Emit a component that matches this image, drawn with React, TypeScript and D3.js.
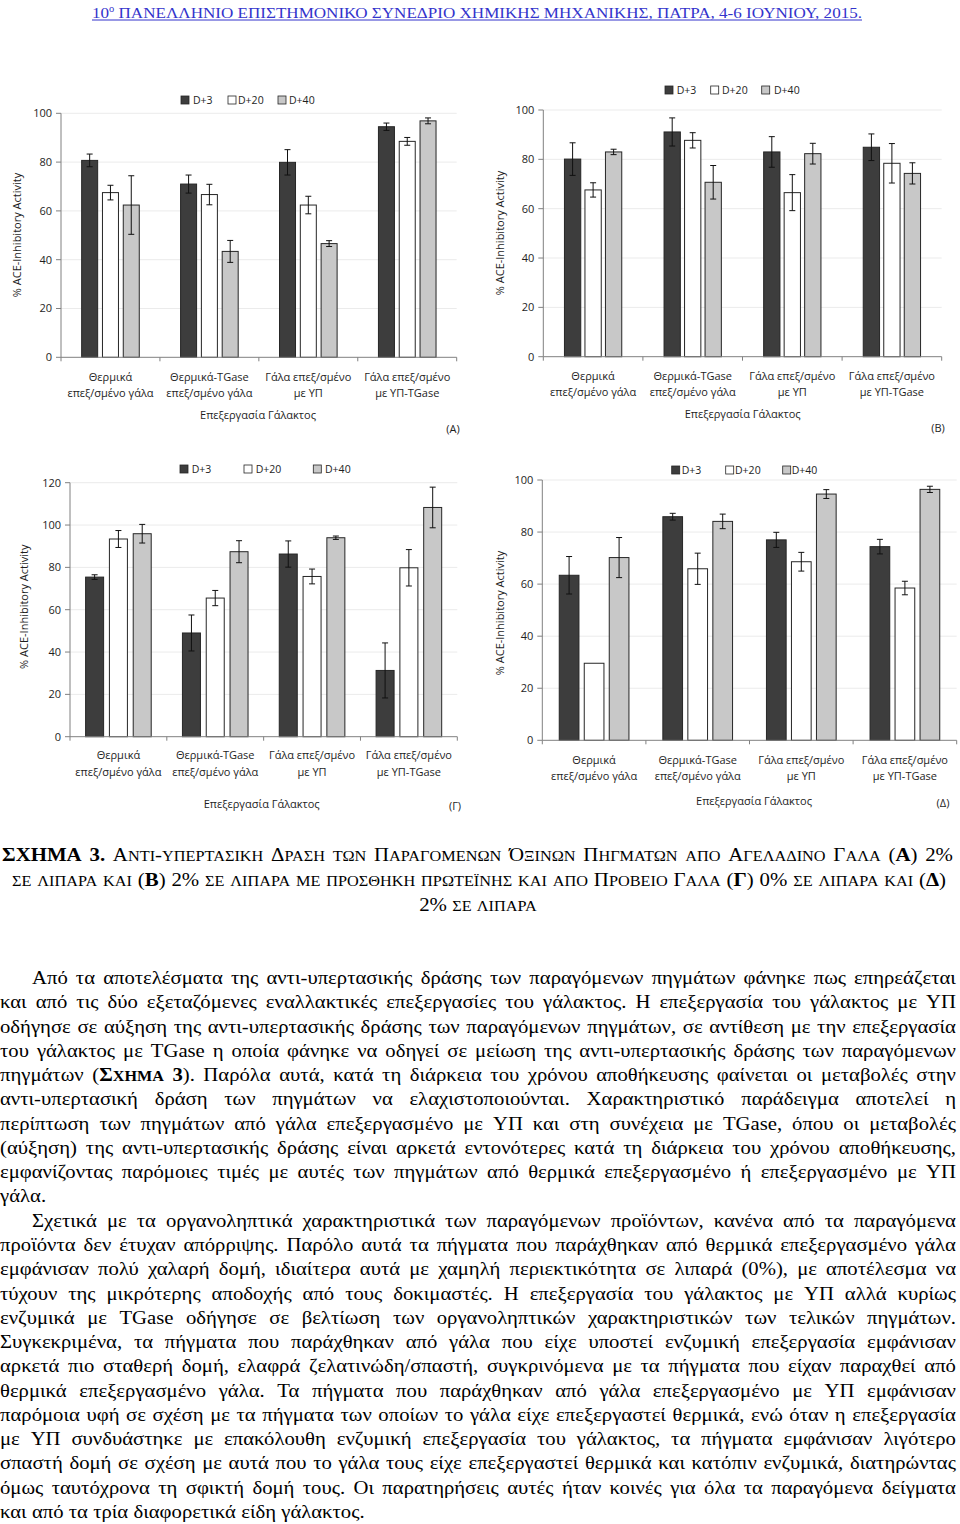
import React, { useEffect, useRef } from 'react';
import * as d3 from 'd3';

// ---------- DATA ----------
const categories: string[][] = [
  ['Θερμικά', 'επεξ/σμένο γάλα'],
  ['Θερμικά-TGase', 'επεξ/σμένο γάλα'],
  ['Γάλα επεξ/σμένο', 'με ΥΠ'],
  ['Γάλα επεξ/σμένο', 'με ΥΠ-TGase'],
];
const seriesNames = ['D+3', 'D+20', 'D+40'];
const xAxisTitle = 'Επεξεργασία Γάλακτος';
const yAxisTitle = '% ACE-Inhibitory Activity';

// (A)
const valuesA = [
  [80.7, 71.0, 79.9, 94.5],
  [67.5, 66.7, 62.4, 88.5],
  [62.4, 43.4, 46.6, 96.9],
];
const errorsA = [
  [2.6, 3.7, 5.2, 1.5],
  [3.0, 4.2, 3.6, 1.6],
  [12.0, 4.5, 1.2, 1.2],
];
// (B)
const valuesB = [
  [80.1, 91.1, 83.0, 84.9],
  [67.6, 87.7, 66.5, 78.4],
  [83.0, 70.7, 82.3, 74.3],
];
const errorsB = [
  [6.6, 5.7, 6.2, 5.4],
  [2.9, 3.1, 7.3, 8.0],
  [1.1, 6.8, 4.2, 4.3],
];
// (Γ)
const valuesG = [
  [75.4, 49.0, 86.3, 31.3],
  [93.4, 65.5, 75.7, 79.8],
  [95.9, 87.4, 94.0, 108.3],
];
const errorsG = [
  [1.1, 8.5, 6.2, 13.0],
  [4.0, 3.6, 3.5, 8.6],
  [4.4, 5.2, 0.8, 9.6],
];
// (Δ)
const valuesD = [
  [63.4, 85.9, 77.0, 74.4],
  [29.6, 65.9, 68.6, 58.5],
  [70.2, 84.1, 94.6, 96.4],
];
const errorsD = [
  [7.2, 1.3, 2.9, 2.8],
  [0, 6.0, 3.6, 2.6],
  [7.7, 2.8, 1.7, 1.2],
];

const headerText = '10ο ΠΑΝΕΛΛΗΝΙΟ ΕΠΙΣΤΗΜΟΝΙΚΟ ΣΥΝΕΔΡΙΟ ΧΗΜΙΚΗΣ ΜΗΧΑΝΙΚΗΣ, ΠΑΤΡΑ, 4-6 ΙΟΥΝΙΟΥ, 2015.';

// caption: * toggles bold, ~ toggles small caps
const captionLines = [
  '*ΣΧΗΜΑ 3.* ~Αντι-υπερτασικη Δραση των Παραγομενων Όξινων Πηγματων απο Αγελαδινο Γαλα~ (*Α*) 2%',
  '~σε λιπαρα και~ (*Β*) 2% ~σε λιπαρα με προσθηκη πρωτεϊνης και απο Προβειο Γαλα~ (*Γ*) 0% ~σε λιπαρα και~ (*Δ*)',
  '2% ~σε λιπαρα~',
];

const bodyLines = [
  'Από τα αποτελέσματα της αντι-υπερτασικής δράσης των παραγόμενων πηγμάτων φάνηκε πως επηρεάζεται',
  'και από τις δύο εξεταζόμενες εναλλακτικές επεξεργασίες του γάλακτος. Η επεξεργασία του γάλακτος με ΥΠ',
  'οδήγησε σε αύξηση της αντι-υπερτασικής δράσης των παραγόμενων πηγμάτων, σε αντίθεση με την επεξεργασία',
  'του γάλακτος με TGase η οποία φάνηκε να οδηγεί σε μείωση της αντι-υπερτασικής δράσης των παραγόμενων',
  'πηγμάτων (*~Σχημα~ 3*). Παρόλα αυτά, κατά τη διάρκεια του χρόνου αποθήκευσης φαίνεται οι μεταβολές στην',
  'αντι-υπερτασική δράση των πηγμάτων να ελαχιστοποιούνται. Χαρακτηριστικό παράδειγμα αποτελεί η',
  'περίπτωση των πηγμάτων από γάλα επεξεργασμένο με ΥΠ και στη συνέχεια με TGase, όπου οι μεταβολές',
  '(αύξηση) της αντι-υπερτασικής δράσης είναι αρκετά εντονότερες κατά τη διάρκεια του χρόνου αποθήκευσης,',
  'εμφανίζοντας παρόμοιες τιμές με αυτές των πηγμάτων από θερμικά επεξεργασμένο ή επεξεργασμένο με ΥΠ',
  'γάλα.',
  'Σχετικά με τα οργανοληπτικά χαρακτηριστικά των παραγόμενων προϊόντων, κανένα από τα παραγόμενα',
  'προϊόντα δεν έτυχαν απόρριψης. Παρόλο αυτά τα πήγματα που παράχθηκαν από θερμικά επεξεργασμένο γάλα',
  'εμφάνισαν πολύ χαλαρή δομή, ιδιαίτερα αυτά με χαμηλή περιεκτικότητα σε λιπαρά (0%), με αποτέλεσμα να',
  'τύχουν της μικρότερης αποδοχής από τους δοκιμαστές. Η επεξεργασία του γάλακτος με ΥΠ αλλά κυρίως',
  'ενζυμικά με TGase οδήγησε σε βελτίωση των οργανοληπτικών χαρακτηριστικών των τελικών πηγμάτων.',
  'Συγκεκριμένα, τα πήγματα που παράχθηκαν από γάλα που είχε υποστεί ενζυμική επεξεργασία εμφάνισαν',
  'αρκετά πιο σταθερή δομή, ελαφρά ζελατινώδη/σπαστή, συγκρινόμενα με τα πήγματα που είχαν παραχθεί από',
  'θερμικά επεξεργασμένο γάλα. Τα πήγματα που παράχθηκαν από γάλα επεξεργασμένο με ΥΠ εμφάνισαν',
  'παρόμοια υφή σε σχέση με τα πήγματα των οποίων το γάλα είχε επεξεργαστεί θερμικά, ενώ όταν η επεξεργασία',
  'με ΥΠ συνδυάστηκε με επακόλουθη ενζυμική επεξεργασία του γάλακτος, τα πήγματα εμφάνισαν λιγότερο',
  'σπαστή δομή σε σχέση με αυτά που το γάλα τους είχε επεξεργαστεί θερμικά και κατόπιν ενζυμικά, διατηρώντας',
  'όμως ταυτόχρονα τη σφικτή δομή τους. Οι παρατηρήσεις αυτές ήταν κοινές για όλα τα παραγόμενα δείγματα',
  'και από τα τρία διαφορετικά είδη γάλακτος.',
];
const indentedLines = [0, 10];
const leftAlignedLines = [9, 22];

// ---------- LAYOUT ----------
interface Panel {
  values: number[][]; errors: number[][]; max: number; tag: string;
  left: number; right: number; top: number; bottom: number;
  barW: number; pitch: number;
  legendY: number; legendSq: number[]; legendTx: number[];
  yTitle: [number, number]; catY: [number, number]; xTitle: [number, number]; tagPos: [number, number];
}

const panels: Panel[] = [
  { values: valuesA, errors: errorsA, max: 100, tag: '(A)',
    left: 61, right: 456.7, top: 113.3, bottom: 357.3, barW: 16, pitch: 20.8,
    legendY: 100, legendSq: [181, 228, 278], legendTx: [193, 238, 289],
    yTitle: [17, 235], catY: [377, 393], xTitle: [258, 415.6], tagPos: [453, 429] },
  { values: valuesB, errors: errorsB, max: 100, tag: '(B)',
    left: 543.3, right: 941.7, top: 110, bottom: 356.7, barW: 16.3, pitch: 20.5,
    legendY: 90, legendSq: [665, 710.7, 761.7], legendTx: [676.7, 722, 774],
    yTitle: [500, 233], catY: [375.7, 392.3], xTitle: [742.7, 414], tagPos: [938, 428] },
  { values: valuesG, errors: errorsG, max: 120, tag: '(Γ)',
    left: 70, right: 457.3, top: 482.7, bottom: 736.7, barW: 18, pitch: 23.8,
    legendY: 469, legendSq: [180, 244, 313.3], legendTx: [191.7, 255.7, 325],
    yTitle: [24, 606.7], catY: [755, 772], xTitle: [261.7, 804.3], tagPos: [455, 805.7] },
  { values: valuesD, errors: errorsD, max: 100, tag: '(Δ)',
    left: 542.3, right: 956.7, top: 480, bottom: 740.3, barW: 19.7, pitch: 25,
    legendY: 470, legendSq: [671.7, 725.7, 782.7], legendTx: [681.7, 735, 791.7],
    yTitle: [500, 613], catY: [760, 776], xTitle: [754, 800.7], tagPos: [943, 803] },
];

const fills = ['#3d3d3d', '#ffffff', '#c8c8c8'];
const chartFont = '"Open Sans", "Noto Sans", sans-serif';
const serif = '"Liberation Serif", "Times New Roman", serif';
const textCol = '#1e1e1e';

function Chart({ p }: { p: Panel }) {
  const y = d3.scaleLinear().domain([0, p.max]).range([p.bottom, p.top]);
  const x = d3.scaleBand<number>().domain(categories.map((_, i) => i)).range([p.left, p.right]);
  const ticks = d3.range(0, p.max + 1, 20);
  const bw = x.bandwidth();
  return (
    <g>
      {ticks.filter(t => t > 0).map(t => (
        <line key={'g' + t} x1={p.left} x2={p.right} y1={y(t)} y2={y(t)} stroke="#ebebeb" strokeWidth={1} />
      ))}
      {p.values.map((ser, s) => ser.map((v, c) => {
        const cx = (x(c) as number) + bw / 2 + (s - 1) * p.pitch;
        return (
          <rect key={`b${s}-${c}`} x={cx - p.barW / 2} y={y(v)} width={p.barW} height={y(0) - y(v)}
            fill={fills[s]} stroke="#262626" strokeWidth={1} />
        );
      }))}
      {p.values.map((ser, s) => ser.map((v, c) => {
        const e = p.errors[s][c];
        if (!e) return null;
        const cx = (x(c) as number) + bw / 2 + (s - 1) * p.pitch;
        return (
          <g key={`e${s}-${c}`} stroke="#111" strokeWidth={1}>
            <line x1={cx} x2={cx} y1={y(v + e)} y2={y(v - e)} />
            <line x1={cx - 3} x2={cx + 3} y1={y(v + e)} y2={y(v + e)} />
            <line x1={cx - 3} x2={cx + 3} y1={y(v - e)} y2={y(v - e)} />
          </g>
        );
      }))}
      <line x1={p.left} x2={p.left} y1={p.top} y2={p.bottom} stroke="#808080" strokeWidth={1} />
      <line x1={p.left} x2={p.right} y1={p.bottom} y2={p.bottom} stroke="#808080" strokeWidth={1} />
      {ticks.map(t => (
        <g key={'t' + t}>
          <line x1={p.left - 5} x2={p.left} y1={y(t)} y2={y(t)} stroke="#808080" />
          <text x={p.left - 9} y={y(t)} dy="0.35em" textAnchor="end" fontSize={11} fontFamily={chartFont} fill={textCol}>{t}</text>
        </g>
      ))}
      {d3.range(categories.length + 1).map(i => {
        const xx = p.left + i * bw;
        return <line key={'xt' + i} x1={xx} x2={xx} y1={p.bottom} y2={p.bottom + 4} stroke="#808080" />;
      })}
      {categories.map((c, i) => (
        <g key={'c' + i}>
          {c.map((ln, j) => (
            <text key={j} x={(x(i) as number) + bw / 2} y={p.catY[j]} dy="0.35em" textAnchor="middle"
              fontSize={11} fontFamily={chartFont} fill={textCol}>{ln}</text>
          ))}
        </g>
      ))}
      <text x={p.xTitle[0]} y={p.xTitle[1]} dy="0.35em" textAnchor="middle" fontSize={11} fontFamily={chartFont} fill={textCol}>{xAxisTitle}</text>
      <text x={p.tagPos[0]} y={p.tagPos[1]} dy="0.35em" textAnchor="middle" fontSize={11} fontFamily={chartFont} fill={textCol}>{p.tag}</text>
      <text transform={`translate(${p.yTitle[0]},${p.yTitle[1]}) rotate(-90)`} dy="0.35em" textAnchor="middle"
        fontSize={11} fontFamily={chartFont} fill={textCol}>{yAxisTitle}</text>
      {seriesNames.map((nm, s) => (
        <g key={'l' + s}>
          <rect x={p.legendSq[s]} y={p.legendY - 4} width={8} height={8} fill={fills[s]} stroke="#262626" strokeWidth={0.8} />
          <text x={p.legendTx[s]} y={p.legendY} dy="0.35em" fontSize={10.5} fontFamily={chartFont} fill={textCol}>{nm}</text>
        </g>
      ))}
    </g>
  );
}

type Seg = { t: string; b: boolean; sc: boolean };
function parseLine(s: string): Seg[][] {
  let b = false, sc = false;
  const words: Seg[][] = [];
  let cur: Seg[] = [];
  for (const ch of s) {
    if (ch === '*') { b = !b; continue; }
    if (ch === '~') { sc = !sc; continue; }
    if (ch === ' ') { if (cur.length) words.push(cur); cur = []; continue; }
    const small = sc && ch !== ch.toUpperCase();
    const t = small ? ch.toUpperCase() : ch;
    const last = cur[cur.length - 1];
    if (last && last.b === b && last.sc === small) last.t += t;
    else cur.push({ t, b, sc: small });
  }
  if (cur.length) words.push(cur);
  return words;
}

interface LineSpec {
  text: string; x0: number; x1: number; y: number; size: number;
  align: 'justify' | 'left' | 'center'; hs: number; scRatio: number;
}

function layoutLines(g: SVGGElement, lines: LineSpec[]) {
  const sel = d3.select(g);
  sel.selectAll('*').remove();
  for (const ln of lines) {
    const words = parseLine(ln.text);
    const nodes = words.map(w => {
      const t = sel.append('text').attr('font-family', serif).attr('font-size', ln.size).attr('fill', '#000');
      w.forEach(seg => {
        const ts = t.append('tspan').text(seg.t);
        if (seg.b) ts.attr('font-weight', 'bold');
        if (seg.sc) ts.attr('font-size', ln.size * ln.scRatio);
      });
      return t;
    });
    const widths = nodes.map(n => (n.node() as SVGTextElement).getComputedTextLength());
    const W = d3.sum(widths);
    const n = words.length - 1;
    const space = ln.size * 0.25;
    let scale = ln.hs;
    let gap = space * scale;
    const avail = ln.x1 - ln.x0;
    if (ln.align === 'justify' && n > 0) {
      gap = (avail - W * scale) / n;
      const minGap = space * 0.6;
      if (gap < minGap) { gap = minGap; scale = (avail - n * minGap) / W; }
    }
    const total = W * scale + n * gap;
    let xx = ln.align === 'center' ? (ln.x0 + ln.x1) / 2 - total / 2 : ln.x0;
    nodes.forEach((nd, i) => {
      nd.attr('transform', `translate(${xx},${ln.y}) scale(${scale},1)`);
      xx += widths[i] * scale + gap;
    });
  }
}

export default function App() {
  const textRef = useRef<SVGGElement>(null);
  useEffect(() => {
    const specs: LineSpec[] = [];
    specs.push({ text: captionLines[0], x0: 2, x1: 953, y: 861, size: 19.5, align: 'justify', hs: 1.07, scRatio: 0.78 });
    specs.push({ text: captionLines[1], x0: 12, x1: 946, y: 886, size: 19.5, align: 'justify', hs: 1.07, scRatio: 0.78 });
    specs.push({ text: captionLines[2], x0: 2, x1: 954, y: 910.5, size: 19.5, align: 'center', hs: 1.07, scRatio: 0.78 });
    bodyLines.forEach((t, i) => {
      specs.push({
        text: t,
        x0: indentedLines.includes(i) ? 32 : 0,
        x1: 956,
        y: 984 + i * 24.27,
        size: 18.5,
        align: leftAlignedLines.includes(i) ? 'left' : 'justify',
        hs: 1.12,
        scRatio: 0.78,
      });
    });
    const run = () => { if (textRef.current) layoutLines(textRef.current, specs); };
    run();
    if ((document as any).fonts && (document as any).fonts.ready) (document as any).fonts.ready.then(run);
  }, []);

  return (
    <svg width={960} height={1524} style={{ position: 'absolute', left: 0, top: 0, background: '#fff' }}>
      <rect x={0} y={0} width={960} height={1524} fill="#fff" />
      <text x={92} y={18} fontFamily={serif} fontSize={15.5} fill="#3333cc" textLength={770} lengthAdjust="spacingAndGlyphs">
        10<tspan fontSize={9.5} dy={-6}>ο</tspan><tspan dy={6}>{headerText.slice(3)}</tspan>
      </text>
      <line x1={92} x2={862} y1={20} y2={20} stroke="#3333cc" strokeWidth={1} />
      {panels.map((p, i) => <Chart key={i} p={p} />)}
      <g ref={textRef} />
    </svg>
  );
}
